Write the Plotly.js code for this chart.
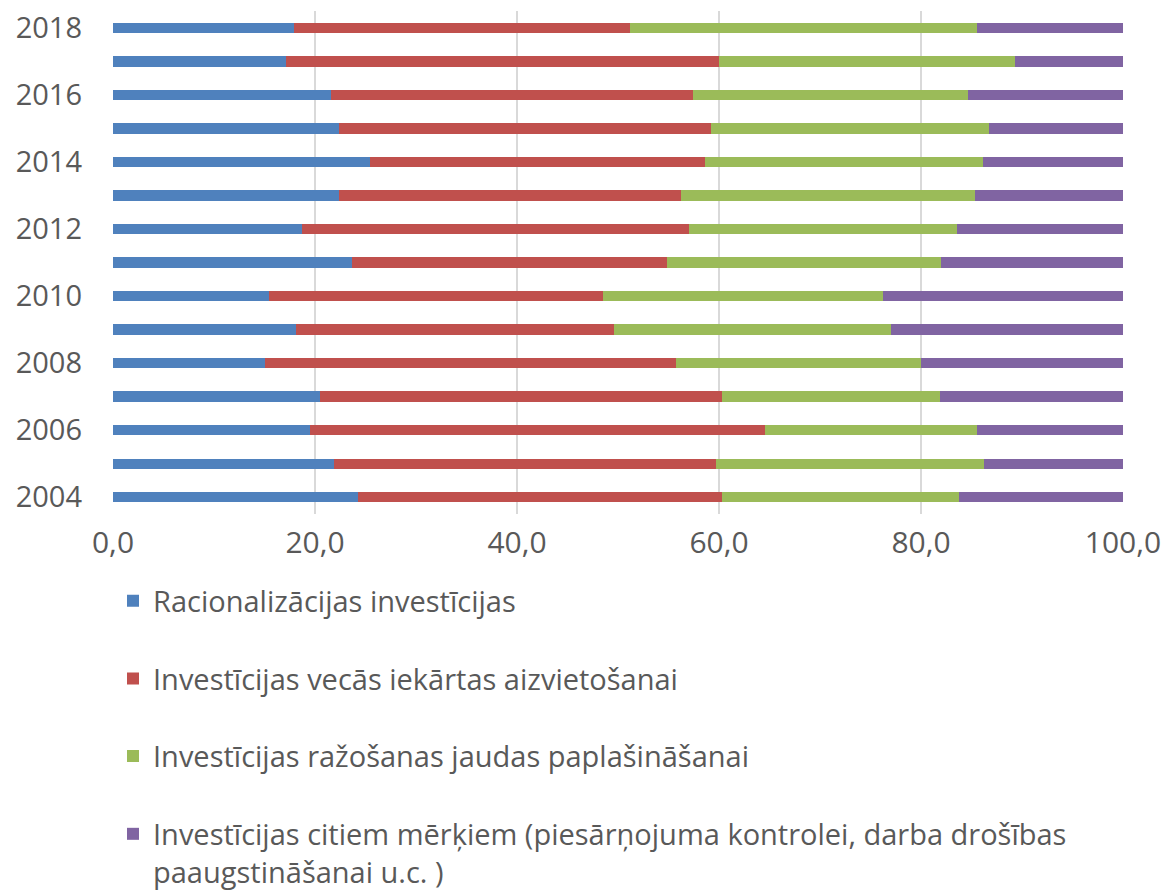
<!DOCTYPE html>
<html>
<head>
<meta charset="utf-8">
<script src="https://cdn.plot.ly/plotly-3.0.1.min.js"></script>
<style>html,body{margin:0;padding:0;background:#fff;}#chart{width:1165px;height:893px;}</style>
</head>
<body>
<div id="chart"></div>
<script>
const years = ["2004","2005","2006","2007","2008","2009","2010","2011","2012","2013","2014","2015","2016","2017","2018"];
const yearTicks = ["2004","2006","2008","2010","2012","2014","2016","2018"];
const xTicks = [0, 20, 40, 60, 80, 100];
const xTickText = ["0,0", "20,0", "40,0", "60,0", "80,0", "100,0"];

const seriesNames = [
  "Racionalizācijas investīcijas",
  "Investīcijas vecās iekārtas aizvietošanai",
  "Investīcijas ražošanas jaudas paplašināšanai",
  "Investīcijas citiem mērķiem (piesārņojuma kontrolei, darba drošības<br>paaugstināšanai u.c. )"
];
const rational = [24.3, 21.9, 19.5, 20.5, 15.0, 18.1, 15.4, 23.7, 18.7, 22.4, 25.4, 22.4, 21.6, 17.1, 17.9];
const replacement = [36.0, 37.8, 45.1, 39.8, 40.7, 31.5, 33.1, 31.2, 38.3, 33.8, 33.2, 36.8, 35.8, 42.9, 33.3];
const expansion = [23.5, 26.5, 20.9, 21.6, 24.3, 27.4, 27.7, 27.1, 26.6, 29.1, 27.5, 27.5, 27.3, 29.3, 34.3];
const other = [16.2, 13.8, 14.5, 18.1, 20.0, 23.0, 23.8, 18.0, 16.4, 14.7, 13.9, 13.3, 15.3, 10.7, 14.5];

const colors = ["#4F81BD", "#C0504D", "#9BBB59", "#8064A2"];
const seriesValues = [rational, replacement, expansion, other];

const data = seriesValues.map((vals, i) => ({
  type: "bar",
  orientation: "h",
  y: years,
  x: vals,
  name: seriesNames[i],
  legendgroup: "g" + i,
  marker: {color: colors[i], line: {width: 0}},
  hoverinfo: "x+y+name"
}));

const font = "'Open Sans', sans-serif";
const layout = {
  width: 1165,
  height: 893,
  barmode: "stack",
  bargap: 0.69,
  margin: {l: 113, r: 42, t: 11, b: 379, autoexpand: false},
  paper_bgcolor: "#ffffff",
  plot_bgcolor: "#ffffff",
  font: {family: font, color: "#595959", size: 29},
  xaxis: {
    range: [0, 100],
    tickvals: xTicks,
    ticktext: xTickText,
    showgrid: true,
    gridcolor: "#d9d9d9",
    gridwidth: 2,
    zeroline: false,
    showline: false,
    ticks: "",
    tickfont: {size: 30, color: "#595959", family: font},
    ticklabelstandoff: 8,
    fixedrange: true
  },
  yaxis: {
    type: "category",
    tickvals: yearTicks,
    ticktext: yearTicks,
    showgrid: false,
    zeroline: false,
    showline: false,
    ticks: "",
    tickfont: {size: 29, color: "#595959", family: font},
    ticklabelstandoff: 30,
    fixedrange: true
  },
  showlegend: true,
  legend: {
    orientation: "v",
    x: 0.0,
    xanchor: "left",
    y: -0.122,
    yanchor: "top",
    valign: "top",
    traceorder: "grouped",
    tracegroupgap: 37,
    font: {size: 29, color: "#595959", family: font},
    itemwidth: 30,
    bgcolor: "rgba(0,0,0,0)"
  }
};

Plotly.newPlot("chart", data, layout, {displayModeBar: false, staticPlot: true});
</script>
</body>
</html>
